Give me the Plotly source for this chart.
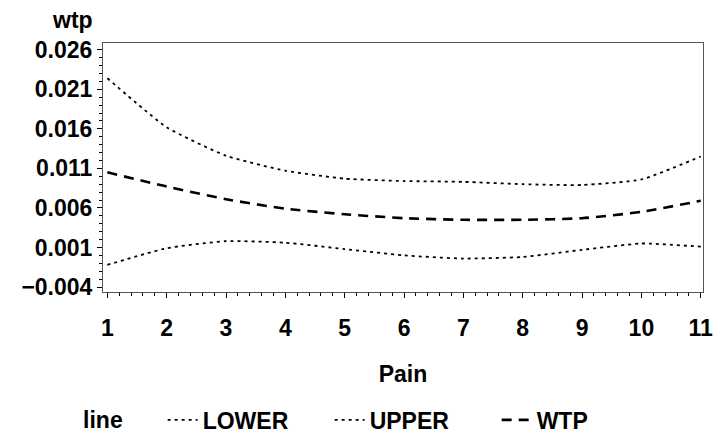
import plotly.graph_objects as go

pain = [1, 2, 3, 4, 5, 6, 7, 8, 9, 10, 11]
lower = [-0.0012, 0.0009, 0.0018, 0.0016, 0.0008, 0.0000, -0.0004, -0.0002, 0.0007, 0.0015, 0.0011]
upper = [0.0224, 0.0162, 0.0126, 0.0107, 0.0097, 0.0094, 0.0093, 0.0090, 0.0089, 0.0096, 0.0125]
wtp = [0.0105, 0.0087, 0.0071, 0.0059, 0.0052, 0.0047, 0.0045, 0.0045, 0.0047, 0.0055, 0.0069]
series_names = ["LOWER", "UPPER", "WTP"]
y_tickvals = [-0.004, 0.001, 0.006, 0.011, 0.016, 0.021, 0.026]
y_ticktext = ["\u22120.004", "0.001", "0.006", "0.011", "0.016", "0.021", "0.026"]

FONT = dict(family="Liberation Sans, Arial, sans-serif", size=23, color="black", weight="bold")

fig = go.Figure()
styles = [
    dict(color="black", width=1.8, dash="3px,4px"),
    dict(color="black", width=1.8, dash="3px,4px"),
    dict(color="black", width=2.6, dash="10px,7px"),
]
for name, ys, st in zip(series_names, [lower, upper, wtp], styles):
    fig.add_trace(go.Scatter(x=pain, y=ys, mode="lines", name=name,
                             line=dict(shape="spline", smoothing=0.5, **st)))

fig.update_layout(
    width=724, height=437,
    margin=dict(l=103, r=11, t=43, b=145),
    paper_bgcolor="white", plot_bgcolor="white",
    font=FONT,
    showlegend=True,
    legend=dict(orientation="h", xref="container", yref="container",
                x=0.112, xanchor="left", y=0.039, yanchor="middle",
                title=dict(text="line" + "\u00a0" * 5, side="left", font=FONT),
                font=FONT, itemwidth=30, entrywidth=122,
                bgcolor="rgba(0,0,0,0)"),
    annotations=[dict(text="wtp", xref="paper", yref="paper", x=0, y=1.094,
                      xanchor="right", yanchor="middle", xshift=-8, showarrow=False, font=FONT)],
)
fig.update_xaxes(range=[0.927, 11.038], tickvals=pain, ticks="outside", ticklen=5,
                 tickcolor="black", tickwidth=1, showgrid=False, zeroline=False,
                 showline=True, linecolor="#555", linewidth=1, mirror=True,
                 ticklabelstandoff=10,
                 minor=dict(dtick=0.2, tick0=1, ticks="outside", ticklen=3, tickcolor="black", showgrid=False),
                 title=dict(text="Pain", standoff=26, font=FONT), tickfont=FONT)
fig.update_yaxes(range=[-0.00463, 0.02685], tickvals=y_tickvals, ticktext=y_ticktext,
                 ticks="outside", ticklen=5, tickcolor="black", tickwidth=1,
                 showgrid=False, zeroline=False,
                 showline=True, linecolor="#555", linewidth=1, mirror=True,
                 minor=dict(dtick=0.001, tick0=-0.004, ticks="outside", ticklen=3, tickcolor="black", showgrid=False),
                 tickfont=FONT)

fig.write_html("out.html")
